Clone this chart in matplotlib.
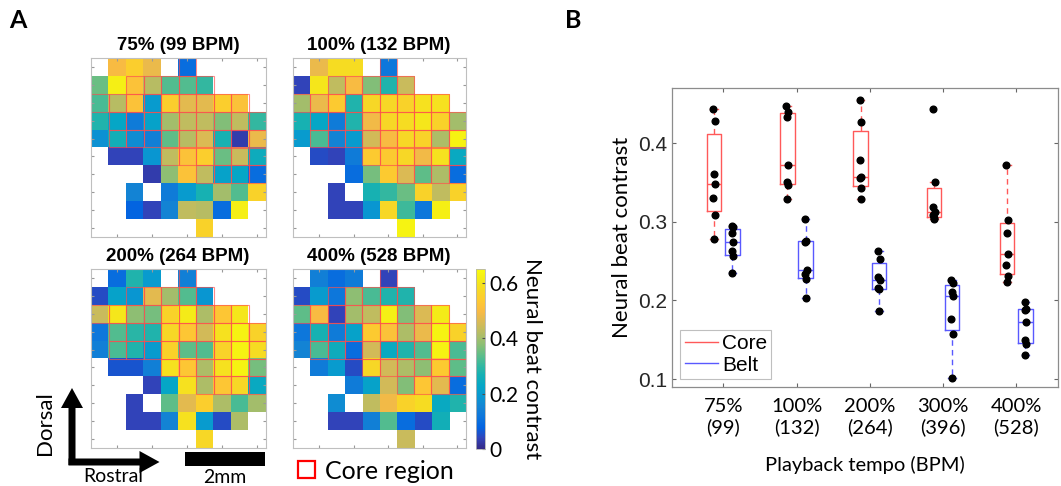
import numpy as np
import matplotlib
matplotlib.use('Agg')
import matplotlib.pyplot as plt
from matplotlib.colors import LinearSegmentedColormap
from matplotlib.patches import Rectangle, FancyArrow
from matplotlib.lines import Line2D

N = np.nan
# ---------------- Panel A data (10 x 10 electrode grid) ----------------
map_titles = ['75% (99 BPM)', '100% (132 BPM)', '200% (264 BPM)', '400% (528 BPM)']
map_75 = [
    [N, 0.50, 0.55, 0.48, N, 0.10, N, N, N, N],
    [0.35, 0.62, 0.52, 0.42, 0.33, 0.33, 0.30, N, N, N],
    [0.32, 0.42, 0.52, 0.20, 0.55, 0.47, 0.47, 0.55, 0.52, N],
    [0.28, 0.23, 0.13, 0.22, 0.40, 0.43, 0.43, 0.37, 0.43, 0.30],
    [0.18, 0.26, 0.17, 0.14, 0.34, 0.42, 0.46, 0.27, 0.03, 0.48],
    [N, 0.04, 0.04, 0.19, 0.43, 0.52, 0.55, 0.35, 0.44, 0.25],
    [N, N, N, 0.03, 0.38, 0.52, 0.43, 0.22, 0.23, 0.10],
    [N, N, 0.15, N, 0.13, 0.20, 0.27, 0.40, 0.33, 0.56],
    [N, N, 0.08, 0.04, 0.15, 0.43, 0.42, 0.10, 0.62, N],
    [N, N, N, N, N, N, 0.56, N, N, N],
]
map_100 = [
    [N, 0.48, 0.58, 0.58, N, 0.12, N, N, N, N],
    [0.04, 0.60, 0.43, 0.50, 0.37, 0.28, 0.44, N, N, N],
    [0.40, 0.48, 0.54, 0.28, 0.57, 0.57, 0.56, 0.59, 0.59, N],
    [0.27, 0.23, 0.13, 0.28, 0.49, 0.57, 0.58, 0.60, 0.56, 0.40],
    [0.20, 0.32, 0.15, 0.20, 0.45, 0.50, 0.57, 0.56, 0.41, 0.63],
    [N, 0.05, 0.04, 0.13, 0.54, 0.54, 0.57, 0.49, 0.59, 0.24],
    [N, N, N, 0.10, 0.36, 0.54, 0.46, 0.34, 0.41, 0.10],
    [N, N, 0.04, N, 0.27, 0.30, 0.35, 0.56, 0.43, 0.56],
    [N, N, 0.04, 0.04, 0.19, 0.57, 0.31, 0.12, 0.62, N],
    [N, N, N, N, N, N, 0.63, N, N, N],
]
map_200 = [
    [N, 0.10, 0.28, 0.20, N, 0.14, N, N, N, N],
    [0.05, 0.22, 0.19, 0.47, 0.40, 0.33, 0.19, N, N, N],
    [0.44, 0.60, 0.38, 0.36, 0.56, 0.61, 0.41, 0.53, 0.60, N],
    [0.12, 0.33, 0.29, 0.28, 0.57, 0.53, 0.45, 0.59, 0.63, 0.56],
    [0.14, 0.32, 0.28, 0.20, 0.56, 0.34, 0.33, 0.56, 0.63, 0.58],
    [N, 0.06, 0.06, 0.14, 0.59, 0.53, 0.41, 0.59, 0.63, 0.36],
    [N, N, N, 0.04, 0.23, 0.59, 0.41, 0.53, 0.57, 0.24],
    [N, N, 0.04, N, 0.34, 0.47, 0.55, 0.41, 0.32, 0.40],
    [N, N, 0.04, 0.04, 0.15, 0.59, 0.20, 0.05, 0.41, N],
    [N, N, N, N, N, N, 0.57, N, N, N],
]
map_400 = [
    [N, 0.14, 0.10, 0.13, N, 0.04, N, N, N, N],
    [0.05, 0.20, 0.12, 0.38, 0.32, 0.28, 0.28, N, N, N],
    [0.34, 0.50, 0.04, 0.40, 0.43, 0.62, 0.37, 0.46, 0.61, N],
    [0.12, 0.27, 0.13, 0.22, 0.54, 0.52, 0.41, 0.48, 0.63, 0.56],
    [0.15, 0.32, 0.25, 0.10, 0.45, 0.24, 0.28, 0.33, 0.63, 0.32],
    [N, 0.13, 0.20, 0.05, 0.57, 0.45, 0.41, 0.38, 0.54, 0.34],
    [N, N, N, 0.13, 0.22, 0.45, 0.37, 0.53, 0.47, 0.10],
    [N, N, 0.17, N, 0.43, 0.49, 0.56, 0.58, 0.24, 0.28],
    [N, N, 0.04, 0.04, 0.14, 0.33, 0.10, 0.05, 0.26, N],
    [N, N, N, N, N, N, 0.44, N, N, N],
]
# core region: row -> (first col, last col)
core_rows = {0: (5, 5), 1: (2, 6), 2: (0, 8), 3: (1, 9), 4: (1, 9), 5: (4, 9), 6: (6, 9)}
cbar_ticks = [0, 0.2, 0.4, 0.6]

# ---------------- Panel B data ----------------
tempo_labels = ['75%\n(99)', '100%\n(132)', '200%\n(264)', '300%\n(396)', '400%\n(528)']
core_75 = [0.443, 0.428, 0.361, 0.348, 0.330, 0.3085, 0.278]
core_100 = [0.4477, 0.4396, 0.4328, 0.3723, 0.351, 0.3464, 0.329]
core_200 = [0.4553, 0.4272, 0.3791, 0.357, 0.3553, 0.3426, 0.329]
core_300 = [0.4438, 0.351, 0.3191, 0.3119, 0.3085, 0.3051, 0.303]
core_400 = [0.3723, 0.3021, 0.2851, 0.2596, 0.2447, 0.2306, 0.2238]
belt_75 = [0.2945, 0.2928, 0.2851, 0.274, 0.263, 0.2566, 0.2349]
belt_100 = [0.3034, 0.2755, 0.2749, 0.2391, 0.2332, 0.2272, 0.2034]
belt_200 = [0.263, 0.2532, 0.2294, 0.2264, 0.216, 0.214, 0.1864]
belt_300 = [0.2264, 0.2226, 0.2102, 0.2051, 0.1762, 0.1574, 0.1009]
belt_400 = [0.1983, 0.189, 0.1881, 0.1728, 0.1498, 0.1447, 0.1311]
yticks_b = [0.1, 0.2, 0.3, 0.4]

# ---------------- colormap (parula approximation) ----------------
parula_pts = [
    (0.2081, 0.1663, 0.5292), (0.1959, 0.2645, 0.7279), (0.0117, 0.3875, 0.8820),
    (0.0498, 0.4586, 0.8641), (0.0793, 0.5200, 0.8312), (0.0343, 0.5966, 0.8199),
    (0.0228, 0.6535, 0.7768), (0.0843, 0.6928, 0.7062), (0.2178, 0.7250, 0.6193),
    (0.3953, 0.7459, 0.5244), (0.5709, 0.7485, 0.4494), (0.7184, 0.7411, 0.3905),
    (0.8507, 0.7299, 0.3360), (0.9739, 0.7314, 0.2666), (0.9955, 0.7861, 0.1967),
    (0.9697, 0.8481, 0.1475), (0.9598, 0.9218, 0.0948), (0.9763, 0.9831, 0.0538)]
parula = LinearSegmentedColormap.from_list('parula', parula_pts, N=256)
parula.set_bad('white')
VMIN, VMAX = 0.0, 0.65

W, H = 1061, 486
fig = plt.figure(figsize=(W / 100, H / 100), dpi=100)

def px_axes(x0, y0, x1, y1):
    return fig.add_axes([x0 / W, 1 - y1 / H, (x1 - x0) / W, (y1 - y0) / H])

CAL = 'Lato'
HEL = 'Liberation Sans'

# ---------------- Panel A ----------------
maps = [map_75, map_100, map_200, map_400]
boxes = [(91, 58, 266, 237), (293, 58, 466, 237), (91, 269, 266, 448), (293, 269, 466, 448)]
title_pos = [(178, 45), (379, 45), (178, 256), (379, 256)]
im = None
for m, b in zip(maps, boxes):
    ax = px_axes(*b)
    arr = np.array(m, dtype=float)
    im = ax.imshow(np.ma.masked_invalid(arr), cmap=parula, vmin=VMIN, vmax=VMAX,
                   extent=(0.5, 10.5, 10.5, 0.5), aspect='auto', interpolation='nearest')
    for r, (c0, c1) in core_rows.items():
        for c in range(c0, c1 + 1):
            ax.add_patch(Rectangle((c + 0.5, r + 0.5), 1, 1, facecolor='none',
                                   edgecolor=(1, 0.3, 0.3), lw=0.8, alpha=0.65))
    ax.set_xlim(0.5, 10.5)
    ax.set_ylim(10.5, 0.5)
    ax.set_xticks(np.arange(2, 11, 2))
    ax.set_yticks(np.arange(1, 11, 1))
    ax.tick_params(direction='in', length=2.5, color='0.6', labelbottom=False,
                   labelleft=False, top=True, right=True)
    for s in ax.spines.values():
        s.set_color('0.75')
        s.set_linewidth(0.8)

cax = px_axes(476, 269, 485, 449)
cb = fig.colorbar(im, cax=cax, ticks=cbar_ticks)
cb.outline.set_edgecolor('0.7')
cb.outline.set_linewidth(0.6)
cax.tick_params(length=2, direction='in', color='0.3', pad=3)
cax.set_yticklabels(['0', '0.2', '0.4', '0.6'], fontsize=15, family=CAL)

# ---------------- Panel B ----------------
axb = px_axes(672, 88, 1058, 387)
core_data = [core_75, core_100, core_200, core_300, core_400]
belt_data = [belt_75, belt_100, belt_200, belt_300, belt_400]
red = (1.0, 0.35, 0.35)
blue = (0.35, 0.35, 1.0)
jit = np.array([-0.012, 0.01, -0.006, 0.012, -0.01, 0.006, 0.0])

def stats(vals):
    v = np.array(vals)
    q1, med, q3 = np.percentile(v, [25, 50, 75], method='hazen')
    iqr = q3 - q1
    lo = v[v >= q1 - 1.5 * iqr].min()
    hi = v[v <= q3 + 1.5 * iqr].max()
    return dict(med=med, q1=q1, q3=q3, whislo=lo, whishi=hi, fliers=[])

for data, off, col in [(core_data, -0.125, red), (belt_data, 0.125, blue)]:
    pos = np.arange(1, 6) + off
    axb.bxp([stats(d) for d in data], positions=pos, widths=0.2, showfliers=False,
            capwidths=0.1,
            boxprops=dict(color=col, lw=1.0),
            medianprops=dict(color=col, lw=1.0),
            whiskerprops=dict(color=col, lw=1.0, ls=(0, (4, 3))),
            capprops=dict(color=col, lw=1.0))
    for p, d in zip(pos, data):
        axb.plot(p + jit[:len(d)], d, 'o', color='black', ms=4.8, zorder=5)

axb.set_xlim(0.3, 5.57)
axb.set_ylim(0.09, 0.47)
axb.set_yticks(yticks_b)
axb.set_yticklabels(['0.1', '0.2', '0.3', '0.4'], fontsize=15, family=HEL, color='0.15')
axb.set_xticks(np.arange(1, 6))
axb.set_xticklabels(tempo_labels, fontsize=14.5, family=CAL, linespacing=1.2)
axb.tick_params(direction='in', length=3, color='0.4', top=True, right=True)
axb.tick_params(axis='x', pad=8)
for s in axb.spines.values():
    s.set_color('0.55')
    s.set_linewidth(0.9)
axb.set_ylabel('Neural beat contrast', fontsize=16, family=CAL, labelpad=4)
axb.set_xlabel('Playback tempo (BPM)', fontsize=14.5, family=CAL, labelpad=14)
leg = axb.legend([Line2D([], [], color=red, lw=1.0), Line2D([], [], color=blue, lw=1.0)],
                 ['Core', 'Belt'], loc='lower left', prop=dict(family=HEL, size=15),
                 handlelength=1.6, handletextpad=0.2, borderpad=0.2, labelspacing=0.1,
                 fancybox=False, edgecolor='0.75', framealpha=1, borderaxespad=0.4)
leg.get_frame().set_linewidth(0.8)

# ---------------- overlay for labels / annotations ----------------
ov = fig.add_axes([0, 0, 1, 1], facecolor='none')
ov.set_xlim(0, W)
ov.set_ylim(H, 0)
ov.axis('off')
ov.text(18, 20, 'A', fontsize=18, fontweight='bold', family=CAL, ha='center', va='center')
ov.text(573, 20, 'B', fontsize=18, fontweight='bold', family=CAL, ha='center', va='center')
for t, (x, y) in zip(map_titles, title_pos):
    ov.text(x, y, t, fontsize=13.5, fontweight='bold', family=HEL, ha='center', va='center')
ov.text(532, 359, 'Neural beat contrast', fontsize=16, family=CAL, rotation=270,
        ha='center', va='center')
# orientation arrows
ov.add_patch(FancyArrow(72, 465, 0, -77, width=7, head_width=22, head_length=20,
                        length_includes_head=True, color='black', lw=0))
ov.add_patch(FancyArrow(68.5, 462, 91, 0, width=7, head_width=22, head_length=20,
                        length_includes_head=True, color='black', lw=0))
ov.text(45, 423, 'Dorsal', fontsize=16, family=CAL, rotation=90, ha='center', va='center')
ov.text(113, 476, 'Rostral', fontsize=14, family=CAL, ha='center', va='center')
# scale bar
ov.add_patch(Rectangle((185, 452), 80, 14, color='black', lw=0))
ov.text(225, 477, '2mm', fontsize=14, family=CAL, ha='center', va='center')
# core region legend
ov.add_patch(Rectangle((298, 461), 17, 17, facecolor='none', edgecolor='red', lw=1.6))
ov.text(325, 471, 'Core region', fontsize=18, family=CAL, ha='left', va='center')

fig.savefig('out.png', dpi=100)
